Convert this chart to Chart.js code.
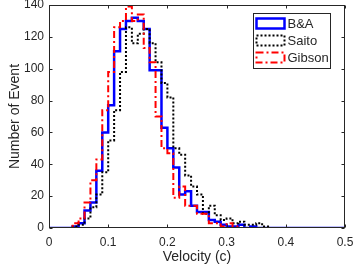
<!DOCTYPE html>
<html>
<head>
<meta charset="utf-8">
<script src="https://cdn.jsdelivr.net/npm/chart.js@4.4.1/dist/chart.umd.min.js"></script>
<style>
  html, body { margin: 0; padding: 0; background: #fff; }
</style>
</head>
<body>
<canvas id="myChart" width="354" height="272"></canvas>
<script>
// left edge of each 0.01 velocity bin (last one closes the range)
var velocity = [0.00, 0.01, 0.02, 0.03, 0.04, 0.05, 0.06, 0.07, 0.08, 0.09,
                0.10, 0.11, 0.12, 0.13, 0.14, 0.15, 0.16, 0.17, 0.18, 0.19,
                0.20, 0.21, 0.22, 0.23, 0.24, 0.25, 0.26, 0.27, 0.28, 0.29,
                0.30, 0.31, 0.32, 0.33, 0.34, 0.35, 0.36, 0.37, 0.38, 0.39,
                0.40, 0.41, 0.42, 0.43, 0.44, 0.45, 0.46, 0.47, 0.48, 0.49, 0.50];

var countsBA = [0, 0, 0, 0, 1, 3, 11, 16, 36, 60,
                77, 111, 125, 130, 132, 130, 125, 99, 99, 63,
                50, 38, 21, 23, 14, 10, 10, 5, 4, 2,
                1, 1, 2, 0, 1, 0, 0, 0, 0, 0,
                0, 0, 0, 0, 0, 0, 0, 0, 0, 0, 0];

var countsSaito = [0, 0, 0, 0, 1, 2, 6, 13, 21, 35,
                   55, 74, 98, 126, 116, 122, 125, 116, 104, 91,
                   82, 50, 46, 33, 26, 21, 9, 14, 8, 5,
                   6, 3, 4, 2, 2, 3, 1, 0, 0, 0,
                   0, 0, 0, 0, 0, 0, 0, 0, 0, 0, 0];

var countsGibson = [0, 0, 0, 0, 3, 6, 16, 30, 43, 74,
                    98, 126, 130, 139, 130, 134, 113, 104, 70, 50,
                    47, 19, 26, 14, 14, 9, 9, 3, 3, 1,
                    3, 1, 0, 0, 0, 0, 0, 0, 0, 0,
                    0, 0, 0, 0, 0, 0, 0, 0, 0, 0, 0];

var seriesNames = ['B&A', 'Saito', 'Gibson'];
var xTicks = [0, 0.1, 0.2, 0.3, 0.4, 0.5];
var yTicks = [0, 20, 40, 60, 80, 100, 120, 140];

var FONT = '"Liberation Sans", Arial, sans-serif';
var INK = '#262626';

function points(values) {
  return velocity.map(function (v, i) { return { x: v, y: values[i] }; });
}

// matlab style box with inward ticks, plus the legend with outlined samples
var framePlugin = {
  id: 'frame',
  afterDatasetsDraw: function (chart) {
    var ctx = chart.ctx, a = chart.chartArea;
    var sx = chart.scales.x, sy = chart.scales.y;
    var L = Math.round(a.left) + 0.5, R = Math.round(a.right) - 0.5;
    var T = Math.round(a.top) + 0.5, B = Math.round(a.bottom) - 0.5;
    ctx.save();
    ctx.strokeStyle = INK;
    ctx.lineWidth = 1;
    ctx.setLineDash([]);
    ctx.strokeRect(L, T, R - L, B - T);
    ctx.beginPath();
    xTicks.forEach(function (v) {
      var p = Math.round(sx.getPixelForValue(v)) + 0.5;
      ctx.moveTo(p, B); ctx.lineTo(p, B - 3);
      ctx.moveTo(p, T); ctx.lineTo(p, T + 3);
    });
    yTicks.forEach(function (v) {
      var p = Math.round(sy.getPixelForValue(v)) + 0.5;
      ctx.moveTo(L, p); ctx.lineTo(L + 3, p);
      ctx.moveTo(R, p); ctx.lineTo(R - 3, p);
    });
    ctx.stroke();

    // legend
    var bx = 253.5, by = 13.5, bw = 77, bh = 55;
    ctx.fillStyle = '#fff';
    ctx.fillRect(bx, by, bw, bh);
    ctx.strokeStyle = INK;
    ctx.strokeRect(bx, by, bw, bh);
    ctx.font = '13px ' + FONT;
    ctx.textBaseline = 'middle';
    ctx.textAlign = 'left';
    chart.data.datasets.forEach(function (ds, i) {
      var cy = by + 10 + i * 17;
      ctx.strokeStyle = ds.borderColor;
      ctx.lineWidth = ds.borderWidth;
      ctx.setLineDash(ds.borderDash || []);
      ctx.strokeRect(bx + 3, cy - 5, 28, 10);
      ctx.setLineDash([]);
      ctx.fillStyle = INK;
      ctx.fillText(ds.label, bx + 34, cy + 0.5);
    });
    ctx.restore();
  }
};

function BuildChart() {
  var ctx = document.getElementById('myChart').getContext('2d');
  var myChart = new Chart(ctx, {
    type: 'line',
    data: {
      datasets: [{
        label: seriesNames[0],
        data: points(countsBA),
        borderColor: '#0000ff',
        borderWidth: 2.5,
        stepped: true,
        pointRadius: 0,
        fill: false,
        order: 2
      }, {
        label: seriesNames[1],
        data: points(countsSaito),
        borderColor: '#000000',
        borderWidth: 2,
        borderDash: [2, 2],
        stepped: true,
        pointRadius: 0,
        fill: false,
        order: 1
      }, {
        label: seriesNames[2],
        data: points(countsGibson),
        borderColor: '#ff0000',
        borderWidth: 2,
        borderDash: [7, 3, 2, 3],
        stepped: true,
        pointRadius: 0,
        fill: false,
        order: 0
      }]
    },
    options: {
      responsive: false,
      animation: false,
      layout: { padding: { top: 5, right: 9, left: 0, bottom: 0 } },
      plugins: { legend: { display: false }, tooltip: { enabled: false } },
      scales: {
        x: {
          type: 'linear',
          min: 0,
          max: 0.5,
          afterBuildTicks: function (scale) {
            scale.ticks = xTicks.map(function (v) { return { value: v }; });
          },
          afterFit: function (scale) {
            scale.height = 44;
            scale.paddingLeft = 0;
            scale.paddingRight = 0;
          },
          grid: { display: false, drawTicks: false },
          border: { display: false },
          ticks: { color: INK, font: { family: FONT, size: 12 }, padding: 7, maxRotation: 0 },
          title: { display: true, text: 'Velocity (c)', color: INK,
                   font: { family: FONT, size: 14 }, padding: { top: 0, bottom: 6 } }
        },
        y: {
          min: 0,
          max: 140,
          afterBuildTicks: function (scale) {
            scale.ticks = yTicks.map(function (v) { return { value: v }; });
          },
          afterFit: function (scale) {
            scale.width = 49;
            scale.paddingTop = 0;
            scale.paddingBottom = 0;
          },
          grid: { display: false, drawTicks: false },
          border: { display: false },
          ticks: { color: INK, font: { family: FONT, size: 12 }, padding: 5 },
          title: { display: true, text: 'Number of Event', color: INK,
                   font: { family: FONT, size: 14 }, padding: { top: 7, bottom: 0 } }
        }
      }
    },
    plugins: [framePlugin]
  });
  return myChart;
}

BuildChart();
</script>
</body>
</html>
